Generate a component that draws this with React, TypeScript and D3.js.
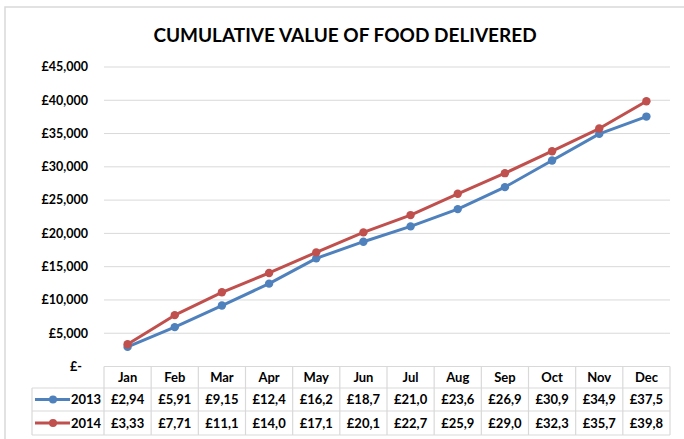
import React from "react";
import * as d3 from "d3";

const months = ["Jan", "Feb", "Mar", "Apr", "May", "Jun", "Jul", "Aug", "Sep", "Oct", "Nov", "Dec"];
const values2013 = [2945, 5915, 9155, 12450, 16250, 18750, 21050, 23650, 26950, 30950, 34950, 37550];
const values2014 = [3335, 7715, 11150, 14050, 17150, 20150, 22750, 25950, 29050, 32350, 35750, 39850];
const yTicks = [0, 5000, 10000, 15000, 20000, 25000, 30000, 35000, 40000, 45000];
const seriesNames = ["2013", "2014"];
const seriesColors = ["#4F81BD", "#C0504D"];
const title = "CUMULATIVE VALUE OF FOOD DELIVERED";

const W = 684, H = 439;
const plot = { left: 104, right: 670, top: 67, bottom: 366.5 };
const table = { left: 32, colLeft: 104, right: 670, rows: [366.5, 388, 411, 435] };
const FONT = "Lato, 'Open Sans', sans-serif";

export default function App() {
  const x = d3.scaleBand<string>().domain(months).range([plot.left, plot.right]);
  const y = d3.scaleLinear().domain([0, 45000]).range([plot.bottom, plot.top]);
  const series = [values2013, values2014];
  const line = d3
    .line<number>()
    .x((_, i) => (x(months[i]) as number) + x.bandwidth() / 2)
    .y((d) => y(d));
  const fmtTick = (v: number) => (v === 0 ? "£-" : "£" + d3.format(",")(v));
  const fmtCell = (v: number) => ("£" + d3.format(",")(v)).slice(0, 5);

  return (
    <svg width={W} height={H} style={{ display: "block", position: "absolute", left: 0, top: 0 }}>
      <rect x={0} y={0} width={W} height={H} fill="#fff" />
      <rect x={5} y={7} width={W + 10} height={H + 10} fill="none" stroke="#D9D9D9" strokeWidth={1.5} />
      <text x={345} y={42} textAnchor="middle" fontFamily={FONT} fontWeight={700} fontSize={19} fill="#000">
        {title}
      </text>
      {yTicks.map((t) => (
        <g key={t}>
          {t > 0 && (
            <line x1={plot.left} x2={plot.right} y1={y(t)} y2={y(t)} stroke="#D9D9D9" strokeWidth={1} />
          )}
          <text
            x={t === 0 ? 82 : 88}
            y={y(t)}
            dy="0.35em"
            textAnchor="end"
            fontFamily={FONT}
            fontWeight={700}
            fontSize={12.5}
            fill="#000"
          >
            {fmtTick(t)}
          </text>
        </g>
      ))}
      {series.map((vals, si) => (
        <g key={si}>
          <path d={line(vals) as string} fill="none" stroke={seriesColors[si]} strokeWidth={3} strokeLinejoin="round" />
          {vals.map((v, i) => (
            <circle key={i} cx={(x(months[i]) as number) + x.bandwidth() / 2} cy={y(v)} r={4.2} fill={seriesColors[si]} />
          ))}
        </g>
      ))}
      {/* data table */}
      <g stroke="#D9D9D9" strokeWidth={1.2} fill="none">
        <line x1={table.colLeft} x2={table.right} y1={table.rows[0]} y2={table.rows[0]} />
        {table.rows.slice(1).map((ry, i) => (
          <line key={i} x1={table.left} x2={table.right} y1={ry} y2={ry} />
        ))}
        <line x1={table.left} x2={table.left} y1={table.rows[1]} y2={table.rows[3]} />
        {months.map((m) => (
          <line key={m} x1={x(m) as number} x2={x(m) as number} y1={table.rows[0]} y2={table.rows[3]} />
        ))}
        <line x1={table.right} x2={table.right} y1={table.rows[0]} y2={table.rows[3]} />
      </g>
      {months.map((m) => (
        <text
          key={m}
          x={(x(m) as number) + x.bandwidth() / 2}
          y={(table.rows[0] + table.rows[1]) / 2}
          dy="0.38em"
          textAnchor="middle"
          fontFamily={FONT}
          fontWeight={700}
          fontSize={13}
          fill="#000"
        >
          {m}
        </text>
      ))}
      {series.map((vals, si) => {
        const cy = (table.rows[si + 1] + table.rows[si + 2]) / 2;
        return (
          <g key={si}>
            <line x1={35} x2={70} y1={cy} y2={cy} stroke={seriesColors[si]} strokeWidth={3} />
            <circle cx={53} cy={cy} r={4} fill={seriesColors[si]} />
            <text x={71} y={cy} dy="0.38em" fontFamily={FONT} fontWeight={700} fontSize={13} fill="#000">
              {seriesNames[si]}
            </text>
            {vals.map((v, i) => (
              <text
                key={i}
                x={(x(months[i]) as number) + x.bandwidth() / 2}
                y={cy}
                dy="0.38em"
                textAnchor="middle"
                fontFamily={FONT}
                fontWeight={700}
                fontSize={13}
                fill="#000"
              >
                {fmtCell(v)}
              </text>
            ))}
          </g>
        );
      })}
    </svg>
  );
}
